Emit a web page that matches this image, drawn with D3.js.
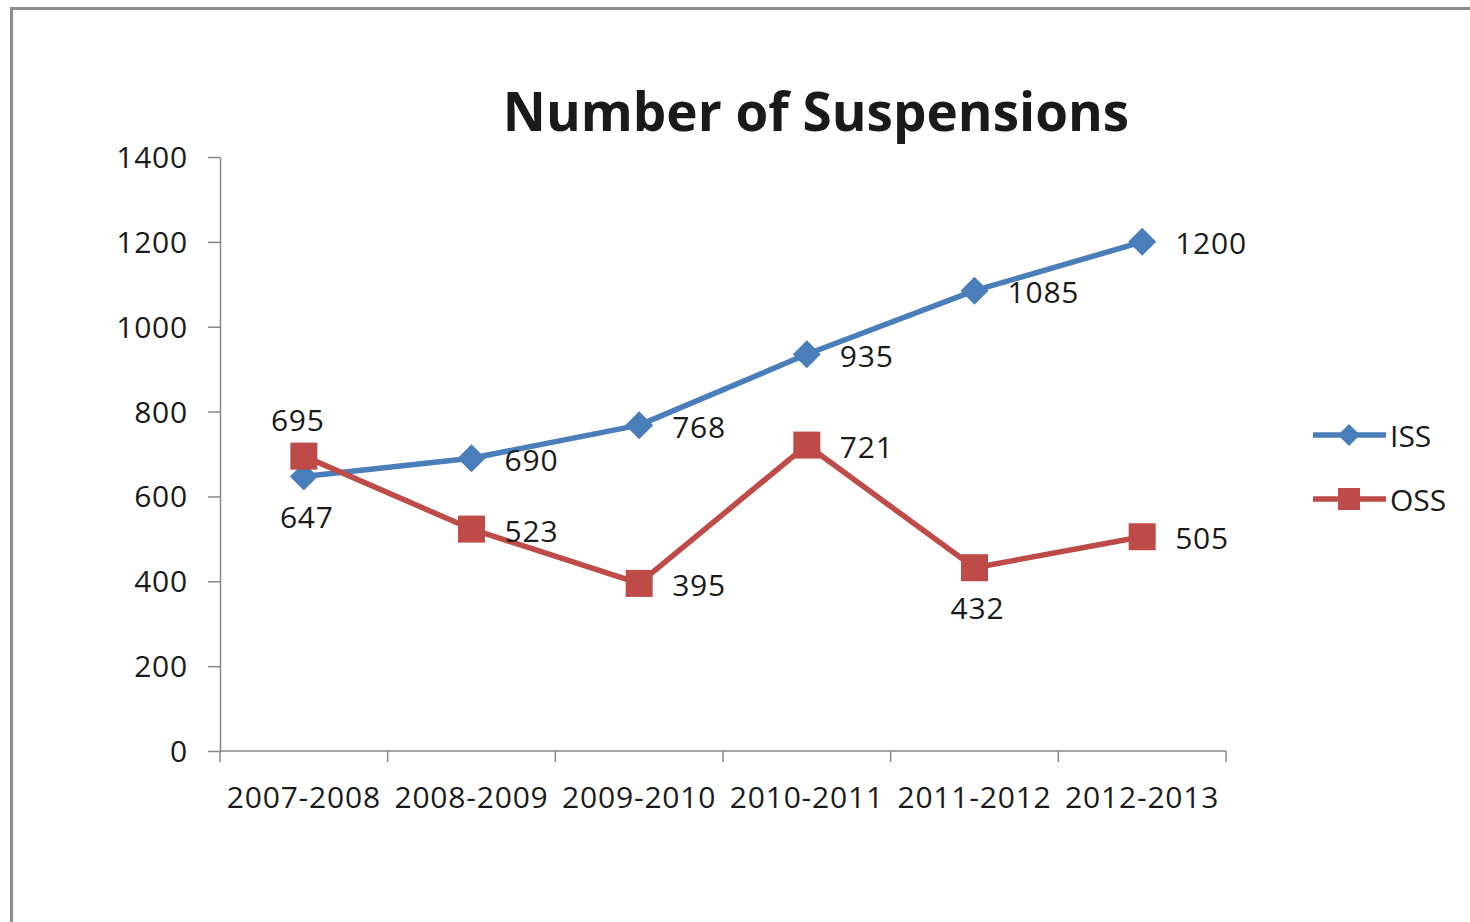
<!DOCTYPE html>
<html>
<head>
<meta charset="utf-8">
<script src="https://cdn.jsdelivr.net/npm/d3@7"></script>
<style>
  html, body { margin: 0; padding: 0; background: #fff; }
  svg { display: block; }
  text { font-family: "Open Sans", "Noto Sans", sans-serif; fill: #1a1a1a; }
  .num { letter-spacing: 0.8px; }
</style>
</head>
<body>
<svg id="chart" width="1470" height="922"></svg>
<script>
// Suspension counts by school year
const years = ["2007-2008", "2008-2009", "2009-2010", "2010-2011", "2011-2012", "2012-2013"];
const issValues = [647, 690, 768, 935, 1085, 1200];
const ossValues = [695, 523, 395, 721, 432, 505];
const yTicks = [0, 200, 400, 600, 800, 1000, 1200, 1400];
// where each data label sits relative to its marker
const issLabelPos = ["below", "right", "right", "right", "right", "right"];
const ossLabelPos = ["above", "right", "right", "right", "below", "right"];

const series = [
  { name: "ISS", values: issValues, pos: issLabelPos, color: "#4a7ebb", marker: "diamond" },
  { name: "OSS", values: ossValues, pos: ossLabelPos, color: "#be4b48", marker: "square" }
];

const svg = d3.select("#chart");
const fontSize = 30;

// outer chart frame
svg.append("rect")
  .attr("x", 11.5).attr("y", 8.5)
  .attr("width", 1500).attr("height", 1000)
  .attr("fill", "#fff")
  .attr("stroke", "#8c8c8c").attr("stroke-width", 3);

const plot = { left: 220, right: 1226, top: 157, bottom: 751 };

const x = d3.scaleBand().domain(years).range([plot.left, plot.right]).padding(0);
const y = d3.scaleLinear().domain([0, 1400]).range([plot.bottom, plot.top]);
const cx = d => x(d) + x.bandwidth() / 2;

const axisColor = "#868686";

// y axis
const yAxis = svg.append("g")
  .attr("transform", `translate(${plot.left},0)`)
  .call(d3.axisLeft(y).tickValues(yTicks).tickFormat(d3.format("d"))
    .tickSize(12).tickPadding(20).tickSizeOuter(0));
yAxis.select(".domain").attr("stroke", axisColor).attr("stroke-width", 1.5);
yAxis.selectAll(".tick line").attr("stroke", axisColor).attr("stroke-width", 1.5);
yAxis.selectAll(".tick text").attr("font-size", fontSize).attr("fill", "#1a1a1a")
  .attr("class", "num")
  .attr("font-family", "'Open Sans', sans-serif").attr("dy", "0.35em");

// x axis with ticks on category boundaries
const xAxisG = svg.append("g")
  .attr("transform", `translate(0,${plot.bottom})`);
xAxisG.append("line")
  .attr("x1", plot.left).attr("x2", plot.right)
  .attr("stroke", axisColor).attr("stroke-width", 1.5);
const boundaries = years.map(d => x(d)).concat([plot.right]);
xAxisG.selectAll("line.tick")
  .data(boundaries).join("line")
  .attr("class", "tick")
  .attr("x1", d => d).attr("x2", d => d)
  .attr("y1", 0).attr("y2", 11)
  .attr("stroke", axisColor).attr("stroke-width", 1.5);
xAxisG.selectAll("text")
  .data(years).join("text")
  .attr("class", "num")
  .attr("x", d => cx(d))
  .attr("y", 57)
  .attr("text-anchor", "middle")
  .attr("font-size", fontSize)
  .text(d => d);

// title
svg.append("text")
  .attr("x", 816).attr("y", 131)
  .attr("text-anchor", "middle")
  .attr("font-size", 53)
  .attr("font-weight", "bold")
  .attr("fill", "#000")
  .text("Number of Suspensions");

const line = d3.line().x((d, i) => cx(years[i])).y(d => y(d));

function drawMarker(g, type, px, py, size, color) {
  if (type === "diamond") {
    g.append("path")
      .attr("d", `M${px},${py - size}L${px + size},${py}L${px},${py + size}L${px - size},${py}Z`)
      .attr("fill", color);
  } else {
    g.append("rect")
      .attr("x", px - size).attr("y", py - size)
      .attr("width", size * 2).attr("height", size * 2)
      .attr("fill", color);
  }
}

series.forEach(s => {
  const g = svg.append("g");
  g.append("path")
    .datum(s.values)
    .attr("d", line)
    .attr("fill", "none")
    .attr("stroke", s.color)
    .attr("stroke-width", 5.5)
    .attr("stroke-linejoin", "round");
  s.values.forEach((v, i) => {
    drawMarker(g, s.marker, cx(years[i]), y(v), s.marker === "diamond" ? 14 : 13.5, s.color);
  });
});

// data labels
series.forEach(s => {
  s.values.forEach((v, i) => {
    const px = cx(years[i]), py = y(v);
    const t = svg.append("text").attr("class", "num").attr("font-size", fontSize).text(v);
    if (s.pos[i] === "right") {
      t.attr("x", px + 33).attr("y", py + 2).attr("dy", "0.35em").attr("text-anchor", "start");
    } else if (s.pos[i] === "below") {
      t.attr("x", px + 3).attr("y", py + 41).attr("dy", "0.35em").attr("text-anchor", "middle");
    } else {
      t.attr("x", px - 6).attr("y", py - 36).attr("dy", "0.35em").attr("text-anchor", "middle");
    }
  });
});

// legend
const legend = svg.append("g");
series.forEach((s, i) => {
  const ly = 435 + i * 64;
  legend.append("line")
    .attr("x1", 1313).attr("x2", 1386)
    .attr("y1", ly).attr("y2", ly)
    .attr("stroke", s.color).attr("stroke-width", 5.5);
  drawMarker(legend, s.marker, 1349, ly, 11, s.color);
  legend.append("text")
    .attr("x", 1390).attr("y", ly + 1)
    .attr("dy", "0.35em")
    .attr("font-size", fontSize)
    .text(s.name);
});
</script>
</body>
</html>
